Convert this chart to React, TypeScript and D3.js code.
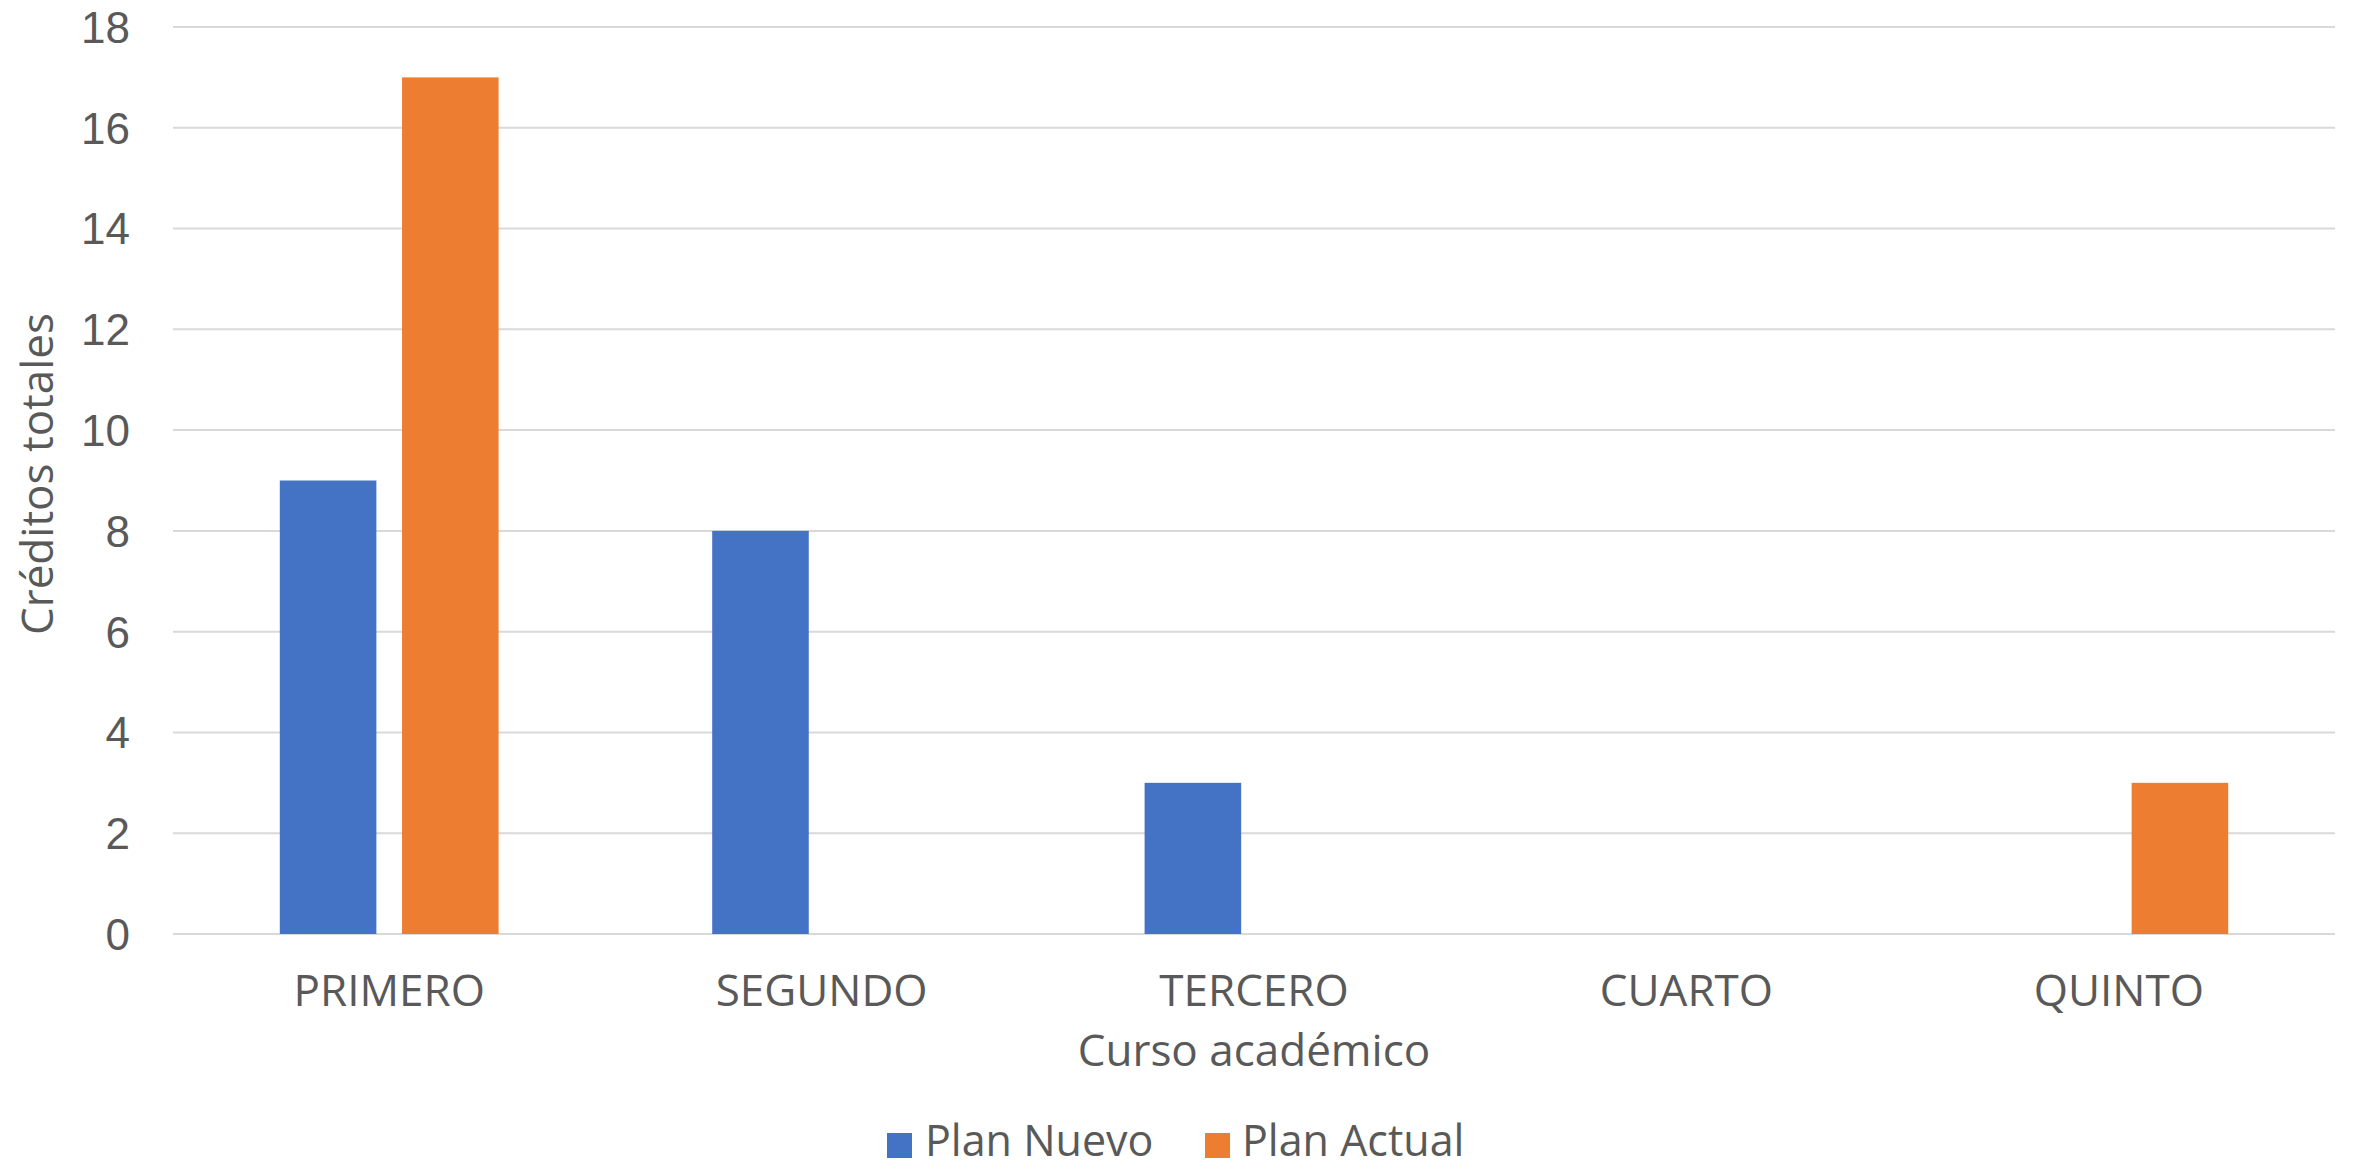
import React from 'react';
import * as d3 from 'd3';

const cursos: string[] = ['PRIMERO', 'SEGUNDO', 'TERCERO', 'CUARTO', 'QUINTO'];
const series: string[] = ['Plan Nuevo', 'Plan Actual'];
const planNuevo: number[] = [9, 8, 3, 0, 0];
const planActual: number[] = [17, 0, 0, 0, 3];
const yTicks: number[] = [0, 2, 4, 6, 8, 10, 12, 14, 16, 18];
const colors: string[] = ['#4472C4', '#ED7D31'];

const W = 2359;
const H = 1169;
const margin = { top: 27, right: 24, bottom: 235, left: 173 };
const FONT = '"Open Sans", "Noto Sans", sans-serif';
const NUM_FONT = '"Liberation Sans", Arial, sans-serif';
const TEXT = '#595959';

const App: React.FC = () => {
  const x0 = d3.scaleBand<string>()
    .domain(cursos)
    .range([margin.left, W - margin.right])
    .padding(0);

  const outer = x0.bandwidth() * 0.247;
  const x1 = d3.scaleBand<string>()
    .domain(series)
    .range([outer, x0.bandwidth() - outer])
    .paddingInner(0.21)
    .paddingOuter(0);

  const y = d3.scaleLinear()
    .domain([0, 18])
    .range([H - margin.bottom, margin.top]);

  const values = [planNuevo, planActual];

  return (
    <svg width={W} height={H} style={{ position: 'absolute', left: 0, top: 0, background: '#fff' }}
      fontFamily={FONT}>
      <rect x={0} y={0} width={W} height={H} fill="#fff" />

      {/* gridlines */}
      <g>
        {yTicks.map(t => (
          <line key={t} x1={margin.left} x2={W - margin.right} y1={y(t)} y2={y(t)}
            stroke="#D9D9D9" strokeWidth={2} />
        ))}
      </g>

      {/* y tick labels */}
      <g fill={TEXT} fontSize={44} textAnchor="end" fontFamily={NUM_FONT}>
        {yTicks.map(t => (
          <text key={t} x={130} y={y(t)} dy="0.36em">{t}</text>
        ))}
      </g>

      {/* bars */}
      {series.map((s, si) => (
        <g key={s} fill={colors[si]}>
          {cursos.map((c, ci) => {
            const v = values[si][ci];
            if (!v) return null;
            return (
              <rect key={c}
                x={(x0(c) || 0) + (x1(s) || 0)}
                y={y(v)}
                width={x1.bandwidth()}
                height={y(0) - y(v)} />
            );
          })}
        </g>
      ))}

      {/* category labels */}
      <g fill={TEXT} fontSize={44} textAnchor="middle">
        {cursos.map(c => (
          <text key={c} x={(x0(c) || 0) + x0.bandwidth() / 2} y={1006}>{c}</text>
        ))}
      </g>

      {/* axis titles */}
      <text x={(margin.left + W - margin.right) / 2} y={1066} fill={TEXT} fontSize={44}
        textAnchor="middle">Curso académico</text>
      <text transform={`translate(53,474) rotate(-90)`} fill={TEXT} fontSize={44}
        textAnchor="middle">Créditos totales</text>

      {/* legend */}
      <g fontSize={43} fill={TEXT}>
        <rect x={887} y={1133} width={25} height={25} fill={colors[0]} />
        <text x={925} y={1156}>{series[0]}</text>
        <rect x={1205} y={1133} width={25} height={25} fill={colors[1]} />
        <text x={1242} y={1156}>{series[1]}</text>
      </g>
    </svg>
  );
};

export default App;
